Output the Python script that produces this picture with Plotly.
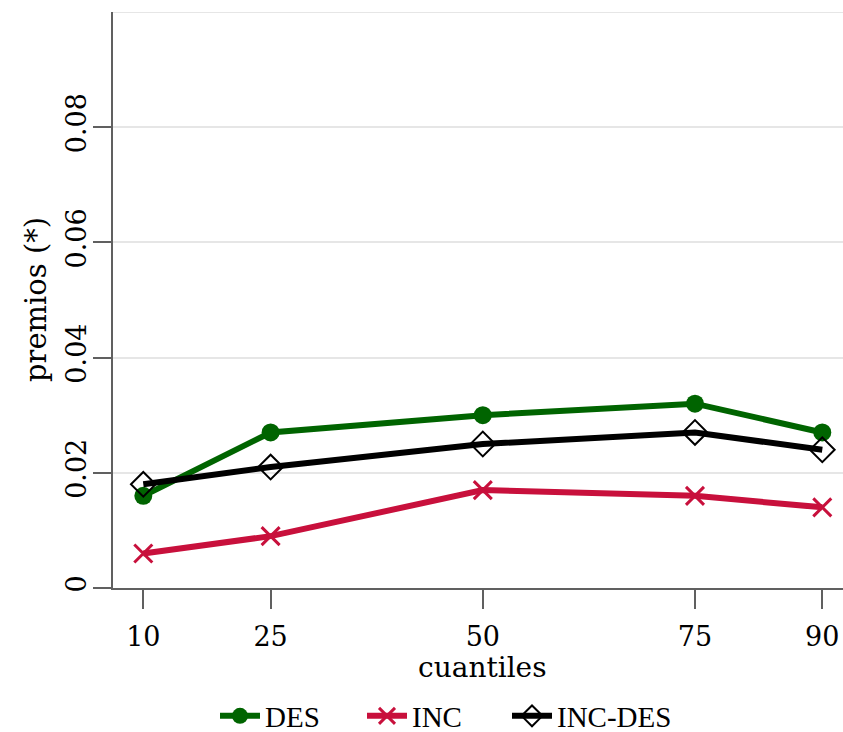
import plotly.graph_objects as go

cuantiles = [10, 25, 50, 75, 90]
des = [0.016, 0.027, 0.030, 0.032, 0.027]
inc = [0.006, 0.009, 0.017, 0.016, 0.014]
inc_des = [0.018, 0.021, 0.025, 0.027, 0.024]
y_ticks = [0, 0.02, 0.04, 0.06, 0.08]
y_labels = ["0", "0.02", "0.04", "0.06", "0.08"]

AXFONT = "DejaVu Serif"
LEGFONT = "Liberation Serif"

PL, PR, PT, PB = 113, 843, 12, 588
PW, PH = PR - PL, PB - PT


def px_x(px):
    return (px - PL) / PW


def px_y(py):
    return (PB - py) / PH


fig = go.Figure()
fig.add_trace(go.Scatter(
    x=cuantiles, y=des, name="DES", mode="lines+markers", legend="legend",
    line=dict(color="#006400", width=6),
    marker=dict(symbol="circle", size=18, color="#006400"),
))
fig.add_trace(go.Scatter(
    x=cuantiles, y=inc, name="INC", mode="lines+markers", legend="legend2",
    line=dict(color="#C8103C", width=6),
    marker=dict(symbol="x-thin", size=18, color="#C8103C",
                line=dict(color="#C8103C", width=3)),
))
fig.add_trace(go.Scatter(
    x=cuantiles, y=inc_des, name="INC-DES", mode="lines+markers", legend="legend3",
    line=dict(color="#000000", width=6),
    marker=dict(symbol="diamond-open", size=19, color="#000000",
                line=dict(color="#000000", width=2)),
))

fig.add_shape(type="line", xref="paper", yref="y", x0=0, x1=1, y0=0.1, y1=0.1,
              line=dict(color="#e6e6e6", width=2), layer="below")

leg_common = dict(orientation="h", xanchor="left", yanchor="middle", y=px_y(716),
                  font=dict(family=LEGFONT, size=29, color="#000"),
                  bgcolor="rgba(0,0,0,0)", itemwidth=40)

fig.update_layout(
    width=843, height=732,
    margin=dict(l=PL, r=843 - PR, t=PT, b=732 - PB, autoexpand=False),
    paper_bgcolor="white", plot_bgcolor="white",
    showlegend=True,
    legend=dict(x=px_x(267 - 52), **leg_common),
    legend2=dict(x=px_x(414 - 52), **leg_common),
    legend3=dict(x=px_x(559 - 52), **leg_common),
    xaxis=dict(
        range=[6.43, 92.44], tickvals=cuantiles, ticktext=[str(c) for c in cuantiles],
        showgrid=False, zeroline=False, showline=True, linecolor="#606060", linewidth=2,
        ticks="outside", ticklen=19, tickwidth=2, tickcolor="#606060",
        tickfont=dict(family=AXFONT, size=27, color="#000"),
        ticklabelstandoff=5, automargin=False,
    ),
    yaxis=dict(
        range=[0, 0.1], tickvals=y_ticks, ticktext=y_labels, tickangle=-90,
        showgrid=True, gridcolor="#e6e6e6", gridwidth=2,
        zeroline=False, showline=True, linecolor="#606060", linewidth=2,
        ticks="outside", ticklen=18, tickwidth=2, tickcolor="#606060",
        tickfont=dict(family=AXFONT, size=27, color="#000"),
        ticklabelstandoff=-4, automargin=False,
    ),
    annotations=[
        dict(text="premios (*)", xref="paper", yref="paper", x=px_x(36), y=px_y(300),
             xanchor="center", yanchor="middle", textangle=-90, showarrow=False,
             font=dict(family=AXFONT, size=29, color="#000")),
        dict(text="cuantiles", xref="paper", yref="paper", x=px_x(482), y=px_y(667),
             xanchor="center", yanchor="middle", showarrow=False,
             font=dict(family=AXFONT, size=28, color="#000")),
    ],
)

fig.write_html("out.html")
